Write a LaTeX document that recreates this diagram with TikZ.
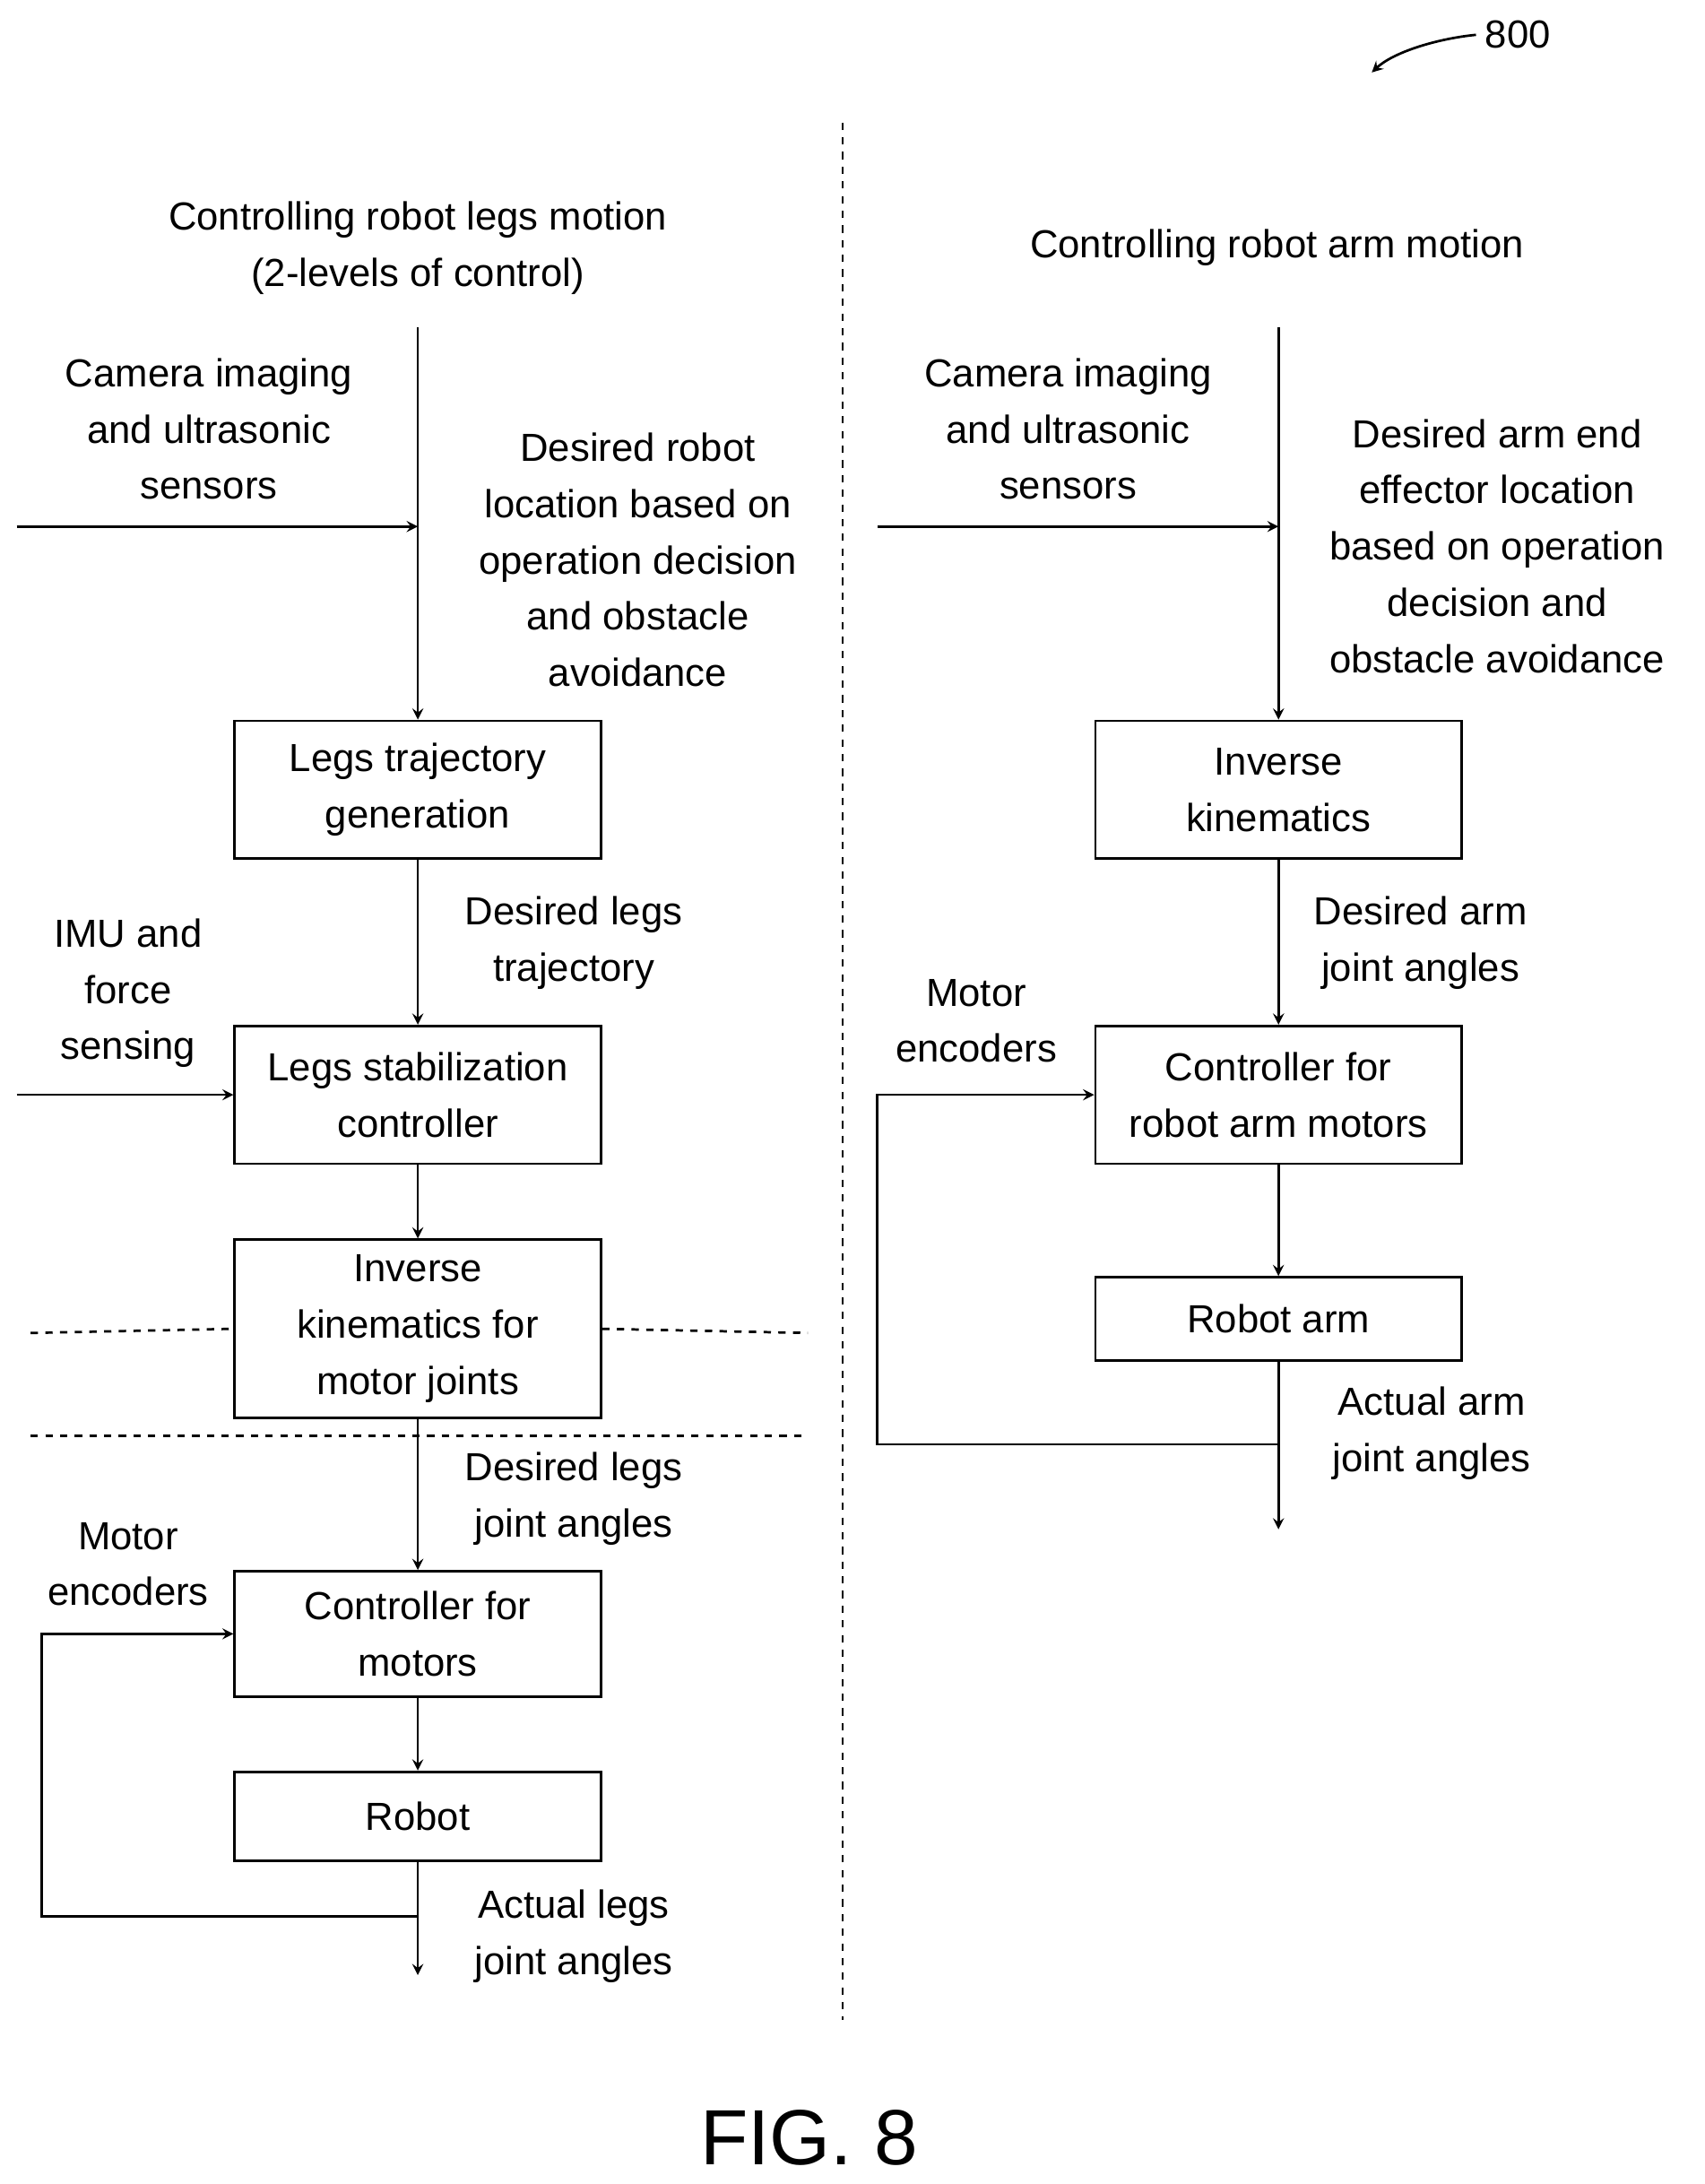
\documentclass[tikz,border=0pt]{standalone}
\usepackage{fontspec}
\setmainfont{Liberation Sans}
\usetikzlibrary{arrows,positioning,calc}

\begin{document}
\begin{tikzpicture}[x=0.02cm, y=-0.02cm, >=stealth, line width=1pt,
    every node/.style={font=\fontsize{16}{23}\selectfont, align=center},
    block/.style={draw, rectangle, minimum width=5.26cm, inner sep=2pt}]
    \useasboundingbox (0,0) rectangle (1224,1568);

    % Left column: legs
    \node[block, minimum height=1.98cm] (traj) at (300,567) {Legs trajectory\\generation};
    \node[block, minimum height=1.98cm] (stab) at (300,786) {Legs stabilization\\controller};
    \node[block, minimum height=2.56cm] (ik) at (300,954) {Inverse\\kinematics for\\motor joints};
    \node[block, minimum height=1.80cm] (ctrl) at (300,1173) {Controller for\\motors};
    \node[block, minimum height=1.28cm] (robot) at (300,1304) {Robot};

    % Right column: arm
    \node[block, minimum height=1.98cm] (armik) at (918,567) {Inverse\\kinematics};
    \node[block, minimum height=1.98cm] (armctrl) at (918,786) {Controller for\\robot arm motors};
    \node[block, minimum height=1.20cm] (arm) at (918,947) {Robot arm};

    % Texts
    \node (legtitle) at (300,178) {Controlling robot legs motion\\(2-levels of control)};
    \node (armtitle) at (917,178) {Controlling robot arm motion};
    \node (cam) at (150,308) {Camera imaging\\and ultrasonic\\sensors};
    \node (armcam) at (767,308) {Camera imaging\\and ultrasonic\\sensors};
    \node at (458,402) {Desired robot\\location based on\\operation decision\\and obstacle\\avoidance};
    \node at (1075,392) {Desired arm end\\effector location\\based on operation\\decision and\\obstacle avoidance};
    \node at (412,677) {Desired legs\\trajectory};
    \node at (92,713) {IMU and\\force\\sensing};
    \node at (1020,677) {Desired arm\\joint angles};
    \node at (701,733) {Motor\\encoders};
    \node at (412,1076) {Desired legs\\joint angles};
    \node at (92,1123) {Motor\\encoders};
    \node at (412,1390) {Actual legs\\joint angles};
    \node at (1028,1029) {Actual arm\\joint angles};
    \node (num) at (1090,25) {800};
    \node[font=\fontsize{32}{36}\selectfont] at (581,1535) {FIG. 8};

    % Free ends
    \coordinate (ltop) at (300,235);
    \coordinate (rtop) at (918,235);
    \coordinate (lin) at (12,378);
    \coordinate (rin) at (630,378);
    \coordinate (imu) at (12,786);
    \coordinate (lout) at (300,1418);
    \coordinate (rout) at (918,1098);

    % Connections
    \draw[->] (ltop) -- (traj);
    \draw[->] (lin) -- (lin -| ltop);
    \draw[->] (traj) -- (stab);
    \draw[->] (imu) -- (stab);
    \draw[->] (stab) -- (ik);
    \draw[->] (ik) -- (ctrl);
    \draw[->] (ctrl) -- (robot);
    \draw[->] (robot) -- (lout);
    \draw[->] (300,1376) -- (30,1376) -- (30,1173) -- (ctrl.west);

    \draw[->] (rtop) -- (armik);
    \draw[->] (rin) -- (rin -| rtop);
    \draw[->] (armik) -- (armctrl);
    \draw[->] (armctrl) -- (arm);
    \draw[->] (arm) -- (rout);
    \draw[->] (918,1037) -- (630,1037) -- (630,786) -- (armctrl.west);

    \draw[->] (num.west) .. controls (1030,28) and (1000,38) .. (985,52);

    % Dashed separators
    \draw[dashed] (605,88) -- (605,1450);
    \draw[dashed] (22,957) -- (ik.west);
    \draw[dashed] (ik.east) -- (580,957);
    \draw[dashed] (22,1031) -- (580,1031);
\end{tikzpicture}
\end{document}
